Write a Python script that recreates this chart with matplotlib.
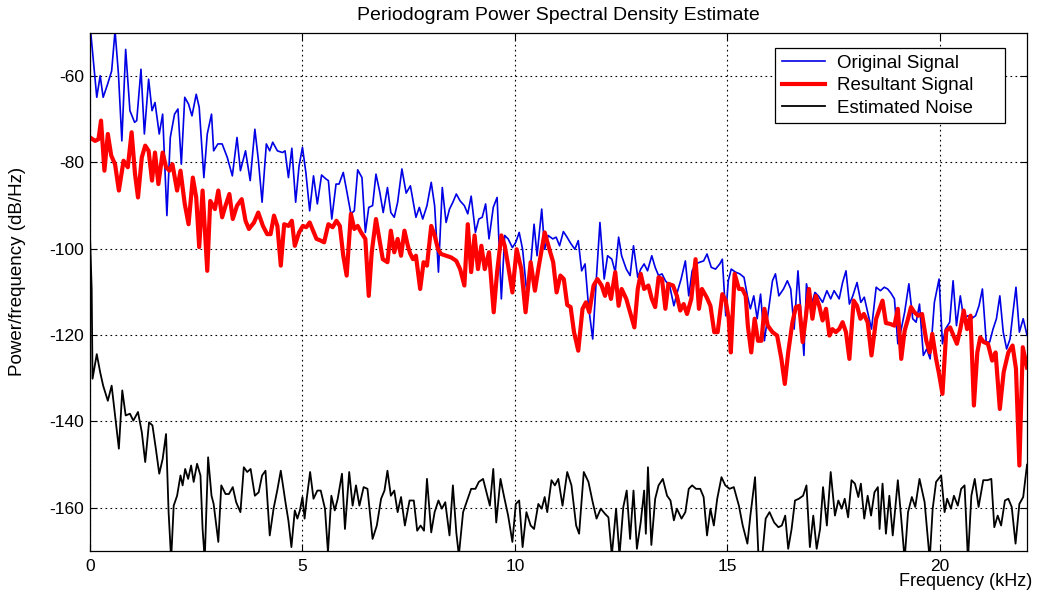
import numpy as np
import matplotlib
matplotlib.use("Agg")
import matplotlib.pyplot as plt

# Periodogram estimates (frequency in kHz, PSD in dB/Hz)
orig_khz = [0.00, 0.16, 0.24, 0.31, 0.41, 0.51, 0.59, 0.67, 0.75, 0.84, 0.94, 1.05, 1.10, 1.20, 1.28, 1.38,
            1.46, 1.53, 1.63, 1.71, 1.81, 1.89, 1.99, 2.07, 2.15, 2.23, 2.32, 2.40, 2.50, 2.57, 2.68, 2.76,
            2.86, 2.91, 3.01, 3.11, 3.23, 3.35, 3.46, 3.54, 3.66, 3.77, 3.88, 3.96, 4.05, 4.15, 4.23, 4.30,
            4.41, 4.53, 4.59, 4.67, 4.75, 4.84, 4.92, 5.00, 5.08, 5.17, 5.26, 5.35, 5.45, 5.55, 5.61, 5.69,
            5.79, 5.86, 5.96, 6.04, 6.14, 6.22, 6.30, 6.40, 6.48, 6.56, 6.65, 6.73, 6.82, 6.90, 7.00, 7.08,
            7.16, 7.24, 7.34, 7.44, 7.54, 7.67, 7.75, 7.83, 7.93, 8.03, 8.11, 8.20, 8.29, 8.38, 8.46, 8.54,
            8.62, 8.71, 8.81, 8.89, 8.97, 9.07, 9.15, 9.23, 9.31, 9.39, 9.49, 9.58, 9.68, 9.76, 9.84, 9.94,
            10.02, 10.10, 10.18, 10.27, 10.35, 10.45, 10.52, 10.63, 10.70, 10.78, 10.89, 10.97, 11.05, 11.14,
            11.22, 11.31, 11.41, 11.49, 11.57, 11.65, 11.73, 11.83, 11.91, 12.00, 12.10, 12.18, 12.28, 12.36,
            12.44, 12.51, 12.62, 12.71, 12.79, 12.89, 12.96, 13.04, 13.12, 13.22, 13.30, 13.38, 13.46, 13.54,
            13.64, 13.74, 13.83, 13.91, 14.01, 14.09, 14.17, 14.25, 14.35, 14.44, 14.52, 14.62, 14.72, 14.82,
            14.88, 14.96, 15.02, 15.09, 15.19, 15.29, 15.39, 15.47, 15.54, 15.62, 15.70, 15.78, 15.87, 15.95,
            16.06, 16.13, 16.21, 16.32, 16.41, 16.49, 16.57, 16.66, 16.74, 16.80, 16.86, 16.96, 17.06, 17.14,
            17.24, 17.34, 17.43, 17.51, 17.63, 17.71, 17.79, 17.87, 17.95, 18.05, 18.14, 18.22, 18.30, 18.39,
            18.50, 18.60, 18.69, 18.77, 18.85, 18.93, 19.01, 19.09, 19.17, 19.27, 19.36, 19.44, 19.52, 19.61,
            19.69, 19.77, 19.87, 19.98, 20.06, 20.13, 20.23, 20.31, 20.39, 20.48, 20.56, 20.66, 20.74, 20.84,
            20.92, 21.00, 21.09, 21.17, 21.25, 21.33, 21.41, 21.49, 21.57, 21.65, 21.72, 21.79, 21.87, 21.96,
            22.05]
orig_db = [-48.0, -64.9, -59.9, -64.9, -62.0, -58.8, -49.5, -59.5, -75.0, -53.8, -68.0, -70.7, -70.3, -58.4,
           -73.4, -60.7, -68.0, -66.1, -73.4, -68.8, -92.3, -74.2, -68.8, -67.6, -80.4, -64.9, -66.5, -69.2,
           -64.2, -67.2, -83.5, -73.4, -68.8, -77.3, -75.7, -75.7, -78.8, -83.1, -74.2, -81.9, -77.3, -84.2,
           -72.3, -79.2, -89.2, -75.7, -77.3, -75.3, -77.3, -77.7, -77.3, -83.5, -76.7, -89.2, -80.8, -76.5,
           -82.3, -91.2, -83.1, -89.6, -82.9, -83.8, -84.2, -93.1, -85.0, -85.0, -82.3, -86.5, -91.9, -91.2,
           -81.7, -83.5, -96.2, -90.4, -90.0, -82.7, -86.9, -91.6, -85.8, -91.6, -92.7, -89.2, -81.5, -87.1,
           -85.4, -92.7, -90.4, -93.1, -90.0, -84.6, -90.0, -105.4, -85.8, -93.9, -90.8, -89.2, -87.3, -88.9,
           -90.0, -91.9, -87.8, -96.2, -93.1, -92.7, -89.6, -97.7, -90.4, -88.1, -111.6, -96.9, -97.7, -99.7,
           -98.5, -96.2, -100.1, -109.3, -106.2, -94.3, -101.6, -90.8, -100.1, -96.9, -97.7, -97.3, -99.3,
           -96.0, -97.2, -98.7, -100.1, -98.1, -105.1, -103.5, -113.2, -120.9, -107.8, -93.9, -107.0, -101.6,
           -102.4, -105.4, -97.3, -101.6, -104.7, -106.2, -99.3, -106.6, -104.7, -103.5, -105.1, -101.6,
           -104.3, -106.2, -105.8, -107.4, -108.5, -113.2, -109.7, -107.0, -102.8, -110.9, -105.1, -103.5,
           -103.1, -102.8, -101.2, -104.3, -104.7, -103.5, -102.4, -115.5, -107.4, -104.7, -105.4, -105.8,
           -106.6, -110.9, -113.9, -110.9, -116.2, -110.5, -121.3, -115.5, -107.4, -105.8, -110.9, -109.3,
           -107.4, -109.3, -118.6, -105.1, -116.2, -124.7, -108.1, -113.5, -110.1, -110.9, -112.4, -109.7,
           -111.6, -109.7, -111.6, -107.8, -105.1, -112.8, -110.9, -107.8, -112.4, -111.2, -114.7, -118.6,
           -108.9, -109.7, -108.9, -109.3, -110.3, -111.6, -122.0, -118.6, -114.7, -108.1, -116.2, -117.0,
           -112.8, -124.7, -123.2, -125.5, -112.4, -107.0, -122.0, -118.6, -117.0, -107.4, -117.8, -110.9,
           -116.2, -115.5, -116.2, -115.5, -113.2, -109.3, -121.6, -121.6, -118.6, -116.2, -110.9, -119.3,
           -123.2, -120.9, -114.7, -108.9, -119.3, -116.2, -120.0]

result_khz = [0.00, 0.12, 0.20, 0.26, 0.34, 0.42, 0.50, 0.59, 0.68, 0.79, 0.89, 0.98, 1.06, 1.13, 1.22, 1.30,
              1.38, 1.46, 1.53, 1.61, 1.71, 1.79, 1.87, 1.94, 2.05, 2.13, 2.23, 2.32, 2.42, 2.50, 2.57, 2.65,
              2.76, 2.83, 2.94, 3.02, 3.11, 3.19, 3.28, 3.36, 3.46, 3.57, 3.66, 3.74, 3.86, 3.96, 4.07, 4.17,
              4.25, 4.33, 4.41, 4.49, 4.57, 4.67, 4.75, 4.82, 4.92, 5.01, 5.09, 5.17, 5.25, 5.33, 5.43, 5.51,
              5.61, 5.71, 5.80, 5.88, 5.96, 6.04, 6.14, 6.22, 6.30, 6.38, 6.48, 6.56, 6.63, 6.73, 6.81, 6.89,
              7.00, 7.08, 7.16, 7.24, 7.32, 7.40, 7.48, 7.53, 7.60, 7.67, 7.77, 7.85, 7.93, 8.03, 8.11, 8.19,
              8.26, 8.38, 8.50, 8.62, 8.71, 8.81, 8.89, 8.97, 9.05, 9.13, 9.21, 9.29, 9.39, 9.50, 9.58, 9.68,
              9.76, 9.84, 9.94, 10.04, 10.15, 10.25, 10.37, 10.47, 10.55, 10.63, 10.70, 10.81, 10.90, 10.98,
              11.07, 11.15, 11.23, 11.31, 11.39, 11.49, 11.59, 11.67, 11.75, 11.85, 11.94, 12.04, 12.12, 12.18,
              12.26, 12.36, 12.44, 12.51, 12.62, 12.71, 12.81, 12.89, 12.96, 13.04, 13.14, 13.22, 13.30, 13.38,
              13.46, 13.54, 13.61, 13.72, 13.81, 13.89, 13.97, 14.05, 14.15, 14.25, 14.33, 14.40, 14.51, 14.60,
              14.69, 14.77, 14.88, 14.96, 15.03, 15.08, 15.17, 15.27, 15.35, 15.43, 15.48, 15.56, 15.64, 15.72,
              15.80, 15.87, 15.95, 16.06, 16.17, 16.27, 16.35, 16.43, 16.53, 16.61, 16.69, 16.77, 16.84, 16.92,
              17.00, 17.08, 17.16, 17.24, 17.32, 17.40, 17.47, 17.55, 17.63, 17.71, 17.79, 17.87, 17.97, 18.05,
              18.13, 18.21, 18.30, 18.39, 18.50, 18.58, 18.65, 18.73, 18.83, 18.93, 19.01, 19.09, 19.17, 19.25,
              19.32, 19.40, 19.49, 19.58, 19.68, 19.76, 19.82, 19.91, 19.98, 20.06, 20.15, 20.24, 20.32, 20.40,
              20.48, 20.56, 20.64, 20.72, 20.80, 20.88, 20.95, 21.03, 21.13, 21.23, 21.31, 21.41, 21.50, 21.61,
              21.71, 21.79, 21.87, 21.95, 22.05]
result_db = [-74.2, -75.0, -74.6, -70.3, -81.9, -73.4, -78.4, -80.4, -86.5, -79.6, -81.1, -73.0, -82.7, -88.1,
             -78.8, -76.1, -77.3, -84.2, -77.7, -85.0, -77.7, -81.1, -81.9, -80.4, -86.5, -81.9, -89.6, -94.3,
             -83.5, -88.1, -99.6, -86.5, -105.1, -88.9, -90.8, -86.5, -92.7, -90.0, -87.3, -93.1, -90.0, -88.5,
             -93.5, -95.4, -93.9, -91.6, -94.7, -96.6, -96.6, -92.3, -94.7, -103.9, -94.3, -94.7, -93.5, -99.3,
             -96.2, -94.7, -95.0, -93.9, -95.8, -97.7, -98.1, -98.5, -94.3, -95.0, -93.5, -94.7, -101.6, -106.2,
             -91.9, -95.4, -94.7, -96.2, -97.7, -110.9, -100.8, -93.1, -97.7, -102.4, -103.1, -95.8, -100.8,
             -97.7, -101.6, -95.8, -99.3, -101.0, -102.4, -101.6, -109.3, -103.1, -103.9, -94.7, -96.9, -100.1,
             -101.2, -101.6, -102.0, -102.8, -104.7, -108.5, -94.3, -105.4, -96.9, -104.7, -99.3, -104.7,
             -100.8, -114.7, -105.4, -96.9, -99.3, -103.9, -110.1, -100.1, -104.7, -114.7, -103.1, -109.7,
             -104.7, -100.1, -96.2, -100.1, -103.1, -110.1, -106.2, -107.0, -113.0, -113.5, -119.3, -123.6,
             -113.9, -112.4, -114.7, -108.5, -107.0, -108.5, -110.9, -108.1, -111.6, -105.4, -113.2, -109.3,
             -111.6, -114.7, -118.2, -109.3, -105.8, -109.3, -108.5, -111.6, -113.5, -106.6, -107.0, -113.9,
             -108.1, -108.5, -110.9, -114.3, -112.8, -115.1, -111.6, -102.4, -113.9, -109.3, -111.2, -113.2,
             -119.3, -119.3, -110.5, -112.0, -116.2, -124.0, -105.8, -109.3, -109.3, -110.9, -117.8, -124.0,
             -116.2, -121.3, -121.3, -113.9, -117.8, -119.3, -120.1, -125.5, -131.3, -124.0, -117.0, -113.5,
             -113.2, -121.6, -116.2, -109.3, -116.2, -110.9, -113.2, -116.6, -113.9, -120.1, -118.6, -119.3,
             -118.6, -117.0, -119.3, -125.5, -112.0, -113.2, -116.2, -115.1, -117.0, -124.7, -116.2, -113.9,
             -112.0, -117.2, -117.4, -117.8, -113.9, -125.5, -119.0, -116.2, -113.5, -114.7, -115.5, -115.1,
             -121.3, -124.0, -119.7, -125.5, -129.0, -133.6, -119.0, -118.2, -120.1, -122.0, -118.6, -114.3,
             -118.6, -115.5, -136.3, -124.0, -120.5, -121.6, -122.0, -125.9, -124.0, -137.1, -128.6, -124.0,
             -122.4, -127.8, -150.2, -122.8, -127.5]

noise_khz = [0.00, 0.04, 0.06, 0.16, 0.24, 0.31, 0.42, 0.51, 0.61, 0.68, 0.76, 0.84, 0.94, 1.02, 1.13, 1.22,
             1.30, 1.39, 1.47, 1.55, 1.63, 1.71, 1.79, 1.85, 1.91, 1.97, 2.05, 2.13, 2.18, 2.24, 2.31, 2.38,
             2.44, 2.52, 2.60, 2.65, 2.70, 2.78, 2.86, 2.91, 3.02, 3.09, 3.19, 3.27, 3.36, 3.44, 3.54, 3.62,
             3.70, 3.78, 3.88, 3.97, 4.05, 4.13, 4.23, 4.32, 4.41, 4.49, 4.60, 4.67, 4.74, 4.82, 4.88, 4.94,
             5.00, 5.05, 5.10, 5.18, 5.26, 5.35, 5.43, 5.53, 5.60, 5.68, 5.76, 5.83, 5.93, 6.00, 6.10, 6.18,
             6.26, 6.34, 6.44, 6.53, 6.65, 6.75, 6.85, 6.93, 7.00, 7.08, 7.16, 7.24, 7.32, 7.41, 7.52, 7.62,
             7.70, 7.78, 7.86, 7.93, 8.03, 8.11, 8.20, 8.28, 8.36, 8.46, 8.54, 8.62, 8.68, 8.78, 8.89, 8.97,
             9.07, 9.15, 9.25, 9.33, 9.41, 9.49, 9.56, 9.66, 9.74, 9.84, 9.94, 10.02, 10.10, 10.18, 10.27,
             10.37, 10.45, 10.55, 10.63, 10.70, 10.76, 10.86, 10.94, 11.02, 11.12, 11.23, 11.33, 11.44, 11.51,
             11.62, 11.73, 11.83, 11.92, 12.02, 12.12, 12.20, 12.28, 12.38, 12.46, 12.55, 12.63, 12.71, 12.79,
             12.87, 12.96, 13.04, 13.08, 13.13, 13.21, 13.30, 13.38, 13.48, 13.58, 13.66, 13.74, 13.81, 13.92,
             14.01, 14.09, 14.17, 14.26, 14.36, 14.44, 14.52, 14.60, 14.68, 14.76, 14.86, 14.95, 15.05, 15.15,
             15.27, 15.36, 15.47, 15.54, 15.65, 15.73, 15.82, 15.90, 15.99, 16.10, 16.20, 16.28, 16.36, 16.43,
             16.51, 16.59, 16.68, 16.78, 16.86, 16.94, 17.02, 17.10, 17.18, 17.25, 17.34, 17.43, 17.53, 17.61,
             17.69, 17.76, 17.84, 17.92, 18.00, 18.08, 18.14, 18.22, 18.30, 18.38, 18.46, 18.54, 18.58, 18.65,
             18.73, 18.81, 18.89, 19.01, 19.09, 19.17, 19.25, 19.34, 19.42, 19.52, 19.64, 19.76, 19.83, 19.91,
             20.03, 20.11, 20.17, 20.26, 20.33, 20.42, 20.50, 20.58, 20.66, 20.74, 20.82, 20.91, 21.02, 21.12,
             21.21, 21.28, 21.36, 21.44, 21.53, 21.61, 21.69, 21.78, 21.87, 21.96, 22.05]
noise_db = [-97.0, -109.3, -130.1, -124.4, -128.6, -131.7, -135.2, -131.7, -140.2, -146.3, -132.8, -138.6,
            -138.2, -139.8, -137.8, -142.5, -149.4, -140.2, -140.9, -146.3, -152.1, -148.7, -142.9, -161.0,
            -172.0, -159.5, -157.2, -152.5, -154.8, -151.0, -153.3, -150.2, -154.0, -149.8, -152.5, -164.9,
            -172.0, -148.3, -157.2, -159.1, -167.9, -154.8, -156.8, -156.8, -155.2, -158.7, -161.0, -150.6,
            -151.7, -151.0, -157.2, -156.4, -152.5, -151.4, -166.4, -160.2, -155.8, -151.4, -158.7, -163.0,
            -169.1, -160.6, -162.5, -160.6, -157.5, -162.5, -157.9, -151.7, -157.9, -156.0, -156.0, -160.2,
            -170.3, -157.2, -160.6, -157.9, -152.1, -164.9, -151.7, -159.5, -154.8, -159.5, -155.2, -155.6,
            -167.2, -164.1, -157.9, -156.0, -151.4, -157.2, -156.0, -161.0, -157.5, -164.1, -158.3, -158.3,
            -165.3, -164.1, -165.3, -153.3, -165.7, -161.0, -158.3, -160.2, -158.7, -166.4, -154.8, -165.7,
            -171.0, -161.0, -157.9, -155.6, -155.6, -154.0, -153.3, -156.4, -159.5, -151.0, -163.4, -153.3,
            -157.2, -161.8, -167.9, -159.1, -158.3, -169.1, -161.0, -164.1, -164.9, -159.1, -160.2, -157.5,
            -161.0, -153.6, -154.8, -153.3, -159.5, -151.7, -154.8, -164.1, -166.0, -151.7, -154.0, -158.7,
            -162.5, -160.2, -161.4, -162.2, -171.0, -160.2, -171.0, -159.8, -156.0, -167.2, -156.0, -169.5,
            -163.3, -156.0, -166.0, -150.6, -168.6, -157.9, -154.8, -153.3, -157.2, -158.3, -162.9, -160.2,
            -162.5, -161.0, -155.6, -154.8, -155.6, -155.6, -157.5, -166.4, -160.2, -164.1, -157.9, -152.9,
            -154.8, -155.6, -155.2, -159.5, -164.1, -168.3, -161.8, -152.9, -171.0, -171.0, -162.5, -161.0,
            -163.4, -164.5, -164.1, -161.8, -169.5, -164.9, -158.3, -157.9, -157.2, -154.8, -169.1, -161.8,
            -169.5, -164.9, -155.2, -164.1, -151.7, -161.8, -158.3, -160.2, -157.9, -162.2, -153.6, -154.4,
            -157.5, -154.4, -162.5, -157.2, -161.8, -156.4, -155.2, -164.9, -154.4, -166.0, -157.2, -166.4,
            -153.6, -162.5, -172.0, -161.0, -157.5, -159.8, -153.3, -158.7, -172.0, -160.2, -154.0, -152.5,
            -161.0, -157.9, -160.2, -157.2, -159.5, -155.6, -154.8, -172.0, -157.2, -153.3, -159.8, -153.6,
            -153.6, -153.3, -164.5, -161.8, -164.1, -158.3, -157.9, -159.8, -168.3, -159.1, -157.5, -150.0]

x_ticks = [0, 5, 10, 15, 20]
y_ticks = [-160, -140, -120, -100, -80, -60]

plt.rcParams['font.family'] = ['Liberation Sans', 'DejaVu Sans']
plt.rcParams['axes.unicode_minus'] = False

fig = plt.figure(figsize=(10.45, 5.91), dpi=100)
ax = fig.add_axes([0.0861, 0.0677, 0.8967, 0.8765])

ax.plot(orig_khz, orig_db, color='#0000e6', lw=1.2, label='Original Signal')
ax.plot(result_khz, result_db, color='#ff0000', lw=3.0, label='Resultant Signal')
ax.plot(noise_khz, noise_db, color='black', lw=1.3, label='Estimated Noise')

ax.set_xlim(0, 22.05)
ax.set_ylim(-170, -50)
ax.set_xticks(x_ticks)
ax.set_yticks(y_ticks)
ax.tick_params(direction='in', length=5, width=0.8, top=True, right=True, labelsize=12.5)
ax.tick_params(axis='y', pad=4)
ax.tick_params(axis='x', pad=6)
ax.grid(True, color='black', linestyle=(0, (1.5, 3)), linewidth=0.8)
for s in ax.spines.values():
    s.set_linewidth(0.9)

ax.set_title('Periodogram Power Spectral Density Estimate', fontsize=14, pad=9)
ax.set_xlabel('Frequency (kHz)', fontsize=13)
ax.xaxis.set_label_coords(0.934, -0.043)
ax.set_ylabel('Power/frequency (dB/Hz)', fontsize=13.5)
ax.yaxis.set_label_coords(-0.068, 0.54)

# Legend box stretched to a fixed width in the upper-right corner
leg = ax.legend(loc='upper left', bbox_to_anchor=(0.731, 0.826, 0.246, 0.145), mode='expand',
                borderaxespad=0, fontsize=13.5, frameon=True, fancybox=False, framealpha=1,
                edgecolor='black', handlelength=2.3, handletextpad=0.65,
                labelspacing=0.28, borderpad=0.36)
leg.get_frame().set_linewidth(0.9)

fig.savefig('out.png', dpi=100)
